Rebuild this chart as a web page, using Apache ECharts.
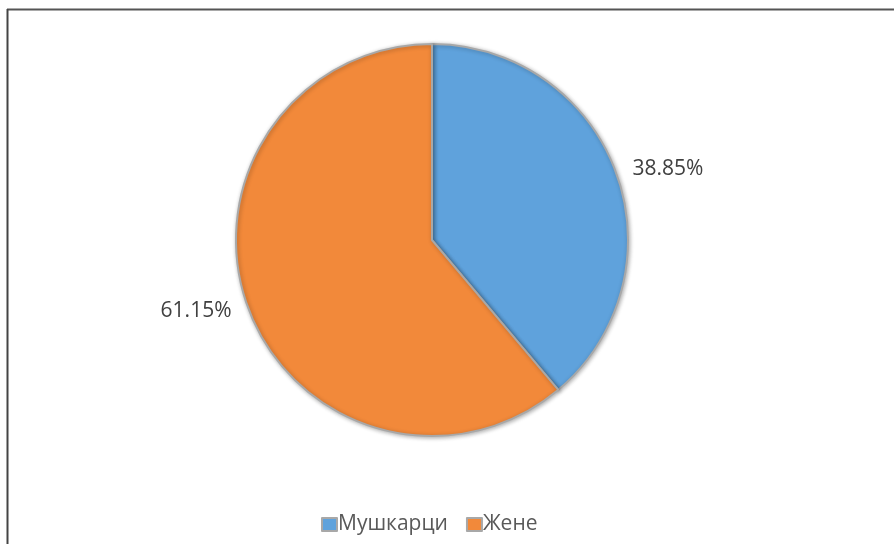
<!DOCTYPE html>
<html>
<head>
<meta charset="utf-8">
<script src="https://cdn.jsdelivr.net/npm/echarts@6/dist/echarts.min.js"></script>
<style>
  html, body { margin: 0; padding: 0; background: #fff; }
  #pieChart { width: 894px; height: 544px; }
</style>
</head>
<body>
<div id="pieChart"></div>
<script>
const categories = ['Мушкарци', 'Жене'];
const shares = [38.85, 61.15];
const colors = ['#5fa2dc', '#f2893a'];

const chart = echarts.init(document.getElementById('pieChart'));

const data = categories.map((name, i) => ({
    name: name,
    value: shares[i],
    itemStyle: { color: colors[i] }
}));

const option = {
    backgroundColor: '#fff',
    color: colors,
    graphic: [
        { type: 'line', shape: { x1: 7, y1: 9.5, x2: 894, y2: 9.5 }, style: { stroke: '#555', lineWidth: 2 } },
        { type: 'line', shape: { x1: 7.5, y1: 9, x2: 7.5, y2: 544 }, style: { stroke: '#444', lineWidth: 2 } }
    ],
    legend: {
        data: categories.map((n, i) => ({ name: n, itemStyle: { color: colors[i] } })),
        top: 509,
        left: 316,
        icon: 'rect',
        itemWidth: 15,
        itemHeight: 13,
        itemGap: 18,
        textStyle: { fontFamily: 'Open Sans', fontSize: 21, color: '#595959', padding: [0, 0, 0, -4] }
    },
    series: [{
        type: 'pie',
        center: [432, 240],
        radius: 196,
        startAngle: 90,
        clockwise: true,
        animation: false,
        itemStyle: {
            borderColor: '#a8a8a8',
            borderWidth: 2,
            shadowColor: 'rgba(0,0,0,0.3)',
            shadowBlur: 4,
            shadowOffsetX: 1,
            shadowOffsetY: 1
        },
        label: {
            position: 'outside',
            formatter: p => p.value.toFixed(2) + '%',
            fontFamily: 'Open Sans',
            fontSize: 21,
            color: '#404040'
        },
        labelLine: { show: false, length: 10, length2: 2 },
        emphasis: { disabled: true },
        data: data
    }]
};

chart.setOption(option);
</script>
</body>
</html>
